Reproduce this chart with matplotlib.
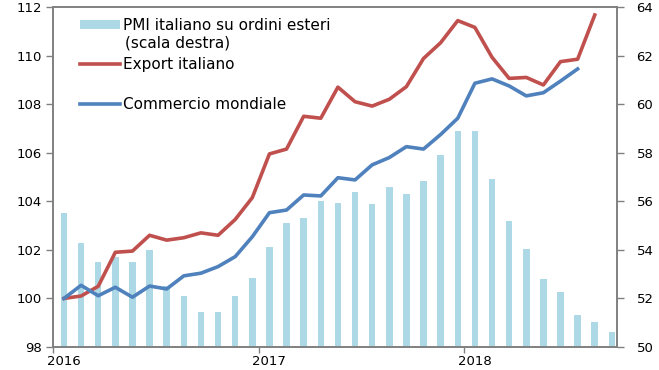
import numpy as np
import matplotlib
matplotlib.use('Agg')
import matplotlib.pyplot as plt
from matplotlib.patches import Patch
from matplotlib.lines import Line2D

plt.rcParams['font.family'] = ['DejaVu Sans']

# Dati mensili da gennaio 2016
anni = ['2016', '2017', '2018']

# PMI italiano su ordini esteri (scala destra)
pmi_ordini_esteri = [55.5, 54.3, 53.5, 53.7, 53.5, 54.0, 52.5, 52.1, 51.45, 51.45,
                     52.1, 52.85, 54.1, 55.1, 55.3, 56.0, 55.95, 56.4, 55.9, 56.6,
                     56.3, 56.85, 57.9, 58.9, 58.9, 56.9, 55.2, 54.05, 52.8, 52.25,
                     51.3, 51.05, 50.6]

# Export italiano (gen 2016 = 100)
export_italiano = [100.0, 100.1, 100.5, 101.9, 101.95, 102.6, 102.4, 102.5, 102.7, 102.6,
                   103.25, 104.15, 105.95, 106.15, 107.5, 107.42, 108.7, 108.1, 107.92, 108.2,
                   108.72, 109.88, 110.53, 111.44, 111.16, 109.93, 109.06, 109.1, 108.79, 109.75,
                   109.85, 111.67]

# Commercio mondiale (gen 2016 = 100)
commercio_mondiale = [100.0, 100.54, 100.11, 100.46, 100.05, 100.51, 100.39, 100.93, 101.04, 101.31,
                      101.72, 102.54, 103.53, 103.64, 104.26, 104.22, 104.97, 104.88, 105.5, 105.8,
                      106.25, 106.15, 106.75, 107.42, 108.86, 109.04, 108.75, 108.34, 108.47, 108.95,
                      109.45]

C_BAR = '#ADD8E6'
C_RED = '#C0504D'
C_BLUE = '#4F81BD'
C_AX = '#808080'
LW = 2.6

fig = plt.figure(figsize=(6.59, 3.70), dpi=100)
ax = fig.add_axes([53/659, 1 - 347/370, 564/659, 340/370])
ax2 = ax.twinx()

# barre sulla scala destra, dietro le linee
x_bar = np.arange(len(pmi_ordini_esteri))
ax2.bar(x_bar, pmi_ordini_esteri, width=0.38, color=C_BAR, bottom=0)
ax2.set_ylim(50, 64)
ax2.set_yticks(np.arange(50, 65, 2))

ax.plot(np.arange(len(export_italiano)), export_italiano, color=C_RED, lw=LW)
ax.plot(np.arange(len(commercio_mondiale)), commercio_mondiale, color=C_BLUE, lw=LW)
ax.set_ylim(98, 112)
ax.set_yticks(np.arange(98, 113, 2))

ax.set_zorder(ax2.get_zorder() + 1)
ax.patch.set_visible(False)

ax.set_xlim(-0.64, 32.3)
ax.set_xticks([12 * k - 0.63 for k in range(3)])
ax.set_xticklabels([])
ax.set_xticks([12 * k for k in range(3)], minor=True)
ax.set_xticklabels(anni, minor=True)
ax.tick_params(axis='x', which='major', direction='out', length=4, color=C_AX, width=1)
ax.tick_params(axis='x', which='minor', length=0, pad=6, labelsize=9.5)
ax.tick_params(axis='y', direction='out', length=5, color=C_AX, width=1, pad=3, labelsize=9.5)
ax2.tick_params(axis='y', direction='out', length=5, color=C_AX, width=1, pad=9, labelsize=9.5)

for a in (ax, ax2):
    for s in a.spines.values():
        s.set_color(C_AX)
        s.set_linewidth(1.2)

handles = [Patch(facecolor=C_BAR, edgecolor='none'),
           Line2D([], [], color=C_RED, lw=LW),
           Line2D([], [], color=C_BLUE, lw=LW)]
labels = ['PMI italiano su ordini esteri', 'Export italiano', 'Commercio mondiale']
ax.legend(handles, labels, loc='upper left', bbox_to_anchor=((80 - 53) / 564, (347 - 18) / 340),
          frameon=False, borderpad=0, borderaxespad=0, fontsize=11, handlelength=2.6,
          handletextpad=0.2, labelspacing=1.6, handleheight=0.55)
ax.text((125 - 53) / 564, (347 - 43) / 340, '(scala destra)', transform=ax.transAxes,
        fontsize=11, va='center', ha='left')

fig.savefig('out.png', dpi=100)
